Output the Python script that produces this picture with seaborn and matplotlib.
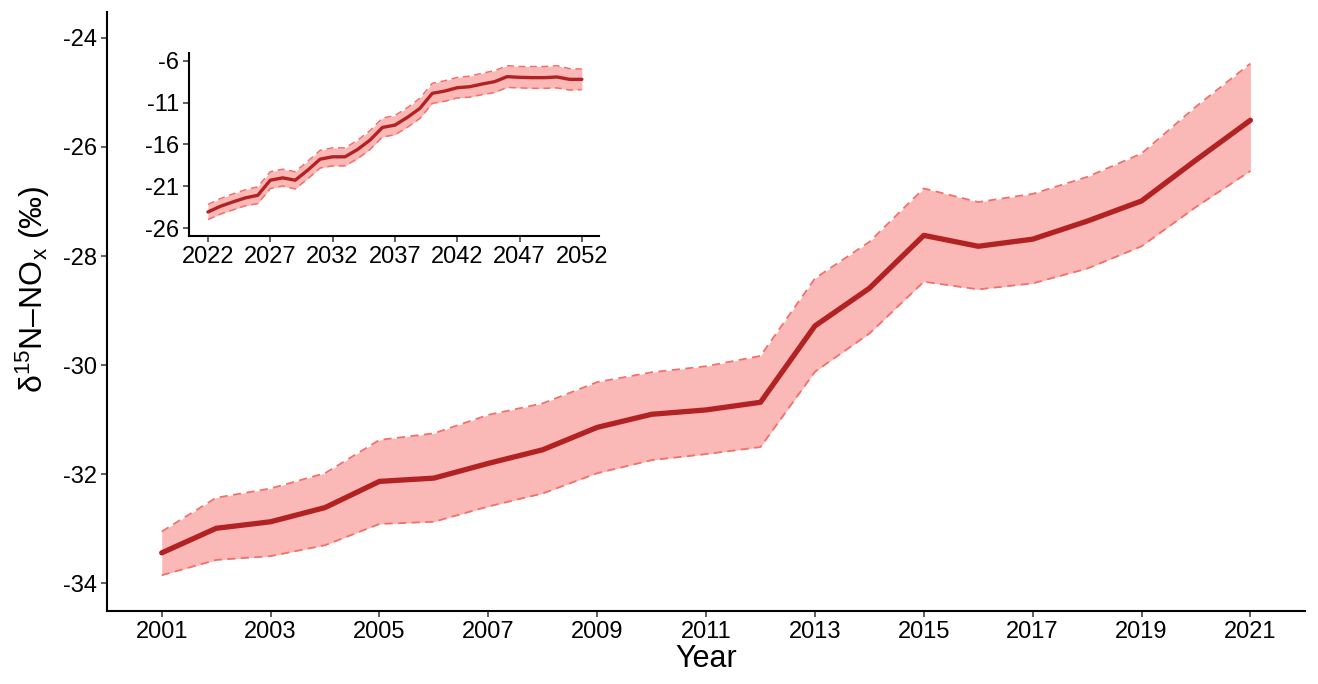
import matplotlib
matplotlib.use("Agg")
import matplotlib.pyplot as plt
import seaborn as sns
import pandas as pd

# main panel, 2001-2021
years = list(range(2001, 2022))
mean_vals = [-33.44, -32.99, -32.87, -32.61, -32.13, -32.07, -31.80, -31.55, -31.14, -30.90, -30.82,
             -30.68, -29.28, -28.59, -27.62, -27.82, -27.69, -27.36, -26.99, -26.24, -25.51]
upper_vals = [-33.05, -32.43, -32.26, -31.98, -31.37, -31.25, -30.91, -30.70, -30.31, -30.13, -30.02,
              -29.83, -28.41, -27.74, -26.76, -27.01, -26.86, -26.55, -26.12, -25.26, -24.47]
lower_vals = [-33.85, -33.57, -33.50, -33.30, -32.91, -32.87, -32.59, -32.35, -31.98, -31.74, -31.63,
              -31.50, -30.12, -29.42, -28.47, -28.61, -28.50, -28.23, -27.82, -27.10, -26.44]

# inset, 2022-2052
years_in = list(range(2022, 2053))
mean_in = [-24.05, -23.37, -22.85, -22.37, -22.06, -20.26, -19.98, -20.26, -19.07, -17.75, -17.47,
           -17.47, -16.60, -15.48, -13.97, -13.69, -12.77, -11.70, -9.90, -9.63, -9.23,
           -9.11, -8.79, -8.51, -7.91, -7.99, -8.03, -8.03, -7.95, -8.23, -8.23]
upper_in = [-23.15, -22.45, -21.90, -21.40, -21.05, -19.25, -18.95, -19.25, -18.00, -16.70, -16.40,
            -16.40, -15.50, -14.35, -12.85, -12.55, -11.60, -10.50, -8.70, -8.40, -8.00,
            -7.85, -7.50, -7.20, -6.60, -6.70, -6.70, -6.70, -6.60, -6.95, -7.00]
lower_in = [-24.95, -24.30, -23.80, -23.30, -23.05, -21.25, -20.95, -21.30, -20.10, -18.80, -18.55,
            -18.55, -17.70, -16.60, -15.10, -14.85, -13.95, -12.90, -11.10, -10.85, -10.45,
            -10.35, -10.05, -9.80, -9.20, -9.25, -9.30, -9.30, -9.25, -9.50, -9.45]

main_ticks_x = list(range(2001, 2022, 2))
main_ticks_y = list(range(-34, -23, 2))
inset_ticks_x = list(range(2022, 2053, 5))
inset_ticks_y = list(range(-26, -5, 5))

df = pd.DataFrame({"Year": years, "mean": mean_vals, "upper": upper_vals, "lower": lower_vals})
df_in = pd.DataFrame({"Year": years_in, "mean": mean_in, "upper": upper_in, "lower": lower_in})

sns.set_theme(style="ticks")
plt.rcParams["font.family"] = ["Liberation Sans", "DejaVu Sans"]
plt.rcParams["mathtext.fontset"] = "custom"
plt.rcParams["mathtext.rm"] = "Liberation Sans"
plt.rcParams["mathtext.it"] = "Liberation Sans:italic"
plt.rcParams["axes.unicode_minus"] = False
plt.rcParams["text.color"] = "black"
plt.rcParams["axes.labelcolor"] = "black"

LINE = "#B22222"
FILL = "#FAB9B6"
EDGE = "#F2706B"
DASH = (0, (4.5, 3))


def draw_band(ax, d, lw_mean, lw_edge):
    ax.fill_between(d["Year"], d["lower"], d["upper"], color=FILL, linewidth=0, zorder=1)
    sns.lineplot(data=d, x="Year", y="upper", ax=ax, color=EDGE, linestyle=DASH,
                 linewidth=lw_edge, zorder=2)
    sns.lineplot(data=d, x="Year", y="lower", ax=ax, color=EDGE, linestyle=DASH,
                 linewidth=lw_edge, zorder=2)
    sns.lineplot(data=d, x="Year", y="mean", ax=ax, color=LINE, linewidth=lw_mean, zorder=3)


def style_axes(ax):
    sns.despine(ax=ax)
    for s in ["left", "bottom"]:
        ax.spines[s].set_linewidth(1.5)
        ax.spines[s].set_color("black")
    ax.tick_params(axis="both", length=4, width=1.1, color="#333333", pad=3.5,
                   labelsize=17, labelcolor="black")


fig = plt.figure(figsize=(13.18, 6.84), dpi=100)
ax = fig.add_axes([0.0814, 0.1072, 0.9086, 0.8757])
draw_band(ax, df, 3.8, 1.3)
ax.set_xlim(2000, 2022)
ax.set_ylim(-34.5, -23.52)
ax.set_xticks(main_ticks_x)
ax.set_yticks(main_ticks_y)
ax.set_xlabel("Year", fontsize=22, labelpad=1)
ax.set_ylabel(r"δ$^{15}$N–NO$_{\mathrm{x}}$ (‰)", fontsize=23)
ax.yaxis.set_label_coords(-0.046, 0.537)
style_axes(ax)

axin = fig.add_axes([0.1436, 0.6554, 0.3111, 0.2676])
draw_band(axin, df_in, 2.4, 1.1)
axin.set_xlim(2020.5, 2053.4)
axin.set_ylim(-26.88, -5.05)
axin.set_xticks(inset_ticks_x)
axin.set_yticks(inset_ticks_y)
axin.set_xlabel("")
axin.set_ylabel("")
style_axes(axin)
axin.patch.set_alpha(0)

fig.savefig("out.png", dpi=100)
plt.close(fig)
